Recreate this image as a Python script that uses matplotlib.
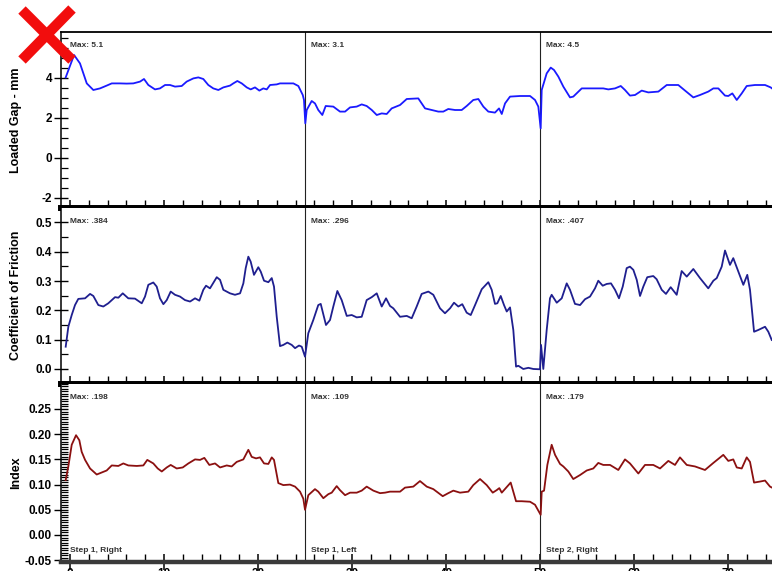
import numpy as np
import matplotlib.pyplot as plt
from matplotlib.lines import Line2D
from matplotlib.ticker import MultipleLocator, FixedLocator, FormatStrFormatter
import matplotlib.transforms as mtransforms

plt.rcParams['font.family'] = ['Liberation Sans', 'DejaVu Sans']
plt.rcParams['font.weight'] = 'bold'
plt.rcParams['axes.labelweight'] = 'bold'
plt.rcParams['axes.unicode_minus'] = False

# Loaded gap (mm)
gap_x = [-0.46, 0.43, 1.06, 1.78, 2.48, 3.19, 3.90, 4.44, 5.32, 6.03, 6.73, 7.45, 7.87, 8.33,
         9.04, 9.57, 10.11, 10.64, 11.17, 11.88, 12.41, 13.12, 13.65, 14.18, 14.71, 15.24,
         15.78, 16.31, 17.02, 17.37, 17.80, 18.27, 18.80, 19.22, 19.68, 20.14, 20.56, 20.93,
         21.28, 21.99, 22.34, 23.76, 24.29, 24.76, 24.89, 25.03, 25.18, 25.71, 26.06, 26.41,
         26.84, 27.20, 28.01, 28.72, 29.26, 29.79, 30.50, 31.03, 31.56, 32.10, 32.63, 33.16,
         33.69, 34.22, 35.11, 35.82, 37.05, 37.77, 38.48, 39.18, 39.71, 40.24, 40.96, 41.67,
         42.20, 42.90, 43.44, 43.97, 44.50, 45.21, 45.64, 45.93, 46.28, 46.81, 47.87, 48.94,
         49.47, 49.82, 50.07, 50.18, 50.71, 51.14, 51.49, 51.95, 52.48, 53.19, 53.54, 54.44,
         55.67, 56.73, 57.27, 57.98, 58.59, 59.04, 59.57, 60.11, 60.82, 61.52, 62.59, 63.48,
         64.71, 65.43, 66.31, 67.02, 67.90, 68.44, 68.97, 69.68, 70.03, 70.46, 70.93, 71.46,
         71.99, 72.87, 73.94, 74.54, 74.68]
gap_y = [4.03, 5.15, 4.73, 3.73, 3.40, 3.48, 3.62, 3.73, 3.73, 3.72, 3.73, 3.82, 3.95, 3.65,
         3.43, 3.48, 3.65, 3.65, 3.57, 3.60, 3.82, 3.98, 4.03, 3.95, 3.65, 3.48,
         3.40, 3.53, 3.62, 3.73, 3.85, 3.73, 3.53, 3.43, 3.53, 3.37, 3.48, 3.43,
         3.65, 3.68, 3.73, 3.73, 3.60, 3.15, 2.90, 1.73, 2.40, 2.85, 2.73, 2.40,
         2.15, 2.60, 2.57, 2.32, 2.32, 2.53, 2.57, 2.68, 2.60, 2.40, 2.15, 2.23,
         2.20, 2.48, 2.65, 2.95, 2.98, 2.48, 2.40, 2.32, 2.32, 2.45, 2.40, 2.40,
         2.60, 2.90, 2.95, 2.57, 2.32, 2.27, 2.48, 2.20, 2.73, 3.07, 3.10, 3.10,
         2.90, 2.57, 1.48, 3.40, 4.23, 4.52, 4.40, 4.07, 3.57, 3.03, 3.07, 3.48,
         3.48, 3.48, 3.43, 3.48, 3.60, 3.40, 3.12, 3.15, 3.37, 3.28, 3.32, 3.65,
         3.65, 3.37, 3.03, 3.15, 3.32, 3.48, 3.48, 3.12, 3.10, 3.23, 2.90, 3.23,
         3.60, 3.65, 3.65, 3.53, 3.48]

# Coefficient of friction
cof_x = [-0.46, -0.18, 0.18, 0.53, 0.88, 1.60, 2.13, 2.48, 3.01, 3.54, 4.07, 4.79, 5.14, 5.61,
         6.20, 6.91, 7.63, 7.98, 8.33, 8.86, 9.22, 9.57, 9.93, 10.29, 10.71, 11.17, 11.70,
         12.23, 12.77, 13.30, 13.76, 14.18, 14.47, 14.89, 15.61, 15.96, 16.31, 17.02, 17.55,
         18.09, 18.44, 18.69, 18.97, 19.22, 19.57, 20.03, 20.29, 20.64, 21.10, 21.46, 21.70,
         21.99, 22.34, 22.69, 23.12, 23.59, 23.94, 24.36, 24.65, 25.00, 25.35, 25.88, 26.41,
         26.67, 27.23, 27.66, 28.01, 28.44, 28.90, 29.44, 29.97, 30.50, 31.03, 31.56, 32.10,
         32.63, 33.16, 33.62, 34.04, 34.39, 35.11, 35.82, 36.35, 36.88, 37.41, 38.12, 38.65,
         39.36, 39.89, 40.43, 40.85, 41.31, 41.73, 42.20, 42.63, 43.09, 43.80, 44.50, 44.86,
         45.21, 45.46, 45.82, 46.17, 46.46, 46.81, 47.16, 47.45, 47.69, 48.22, 48.76, 49.29,
         50.00, 50.11, 50.35, 50.71, 51.06, 51.24, 51.78, 52.31, 52.84, 53.19, 53.72, 54.26,
         54.79, 55.32, 55.85, 56.20, 56.67, 57.10, 57.55, 57.98, 58.40, 58.80, 59.22, 59.57,
         59.93, 60.29, 60.64, 60.99, 61.41, 62.05, 62.41, 62.95, 63.40, 63.90, 64.54, 65.07,
         65.61, 66.31, 67.02, 67.90, 68.44, 68.80, 69.33, 69.68, 70.21, 70.56, 71.10, 71.63,
         72.05, 72.34, 72.77, 73.22, 73.94, 74.29, 74.65]
cof_y = [0.076, 0.144, 0.184, 0.218, 0.239, 0.241, 0.256, 0.249, 0.218, 0.213, 0.224, 0.245, 0.243, 0.258,
         0.241, 0.240, 0.224, 0.247, 0.287, 0.295, 0.281, 0.241, 0.221, 0.235, 0.264, 0.253, 0.247,
         0.235, 0.230, 0.241, 0.233, 0.270, 0.284, 0.275, 0.313, 0.304, 0.270, 0.258, 0.253,
         0.258, 0.292, 0.344, 0.383, 0.366, 0.321, 0.347, 0.332, 0.301, 0.296, 0.310, 0.281,
         0.178, 0.078, 0.082, 0.090, 0.082, 0.071, 0.080, 0.076, 0.042, 0.122, 0.167, 0.218,
         0.222, 0.150, 0.167, 0.213, 0.266, 0.235, 0.181, 0.184, 0.176, 0.178, 0.235, 0.245,
         0.258, 0.213, 0.241, 0.215, 0.207, 0.178, 0.181, 0.173, 0.213, 0.256, 0.264, 0.253,
         0.207, 0.190, 0.207, 0.226, 0.213, 0.221, 0.192, 0.184, 0.218, 0.272, 0.296, 0.270,
         0.222, 0.224, 0.249, 0.218, 0.196, 0.210, 0.133, 0.008, 0.011, 0.000, 0.004, 0.000,
         -0.001, 0.082, 0.000, 0.133, 0.241, 0.253, 0.226, 0.241, 0.292, 0.270, 0.222, 0.218,
         0.238, 0.247, 0.275, 0.301, 0.284, 0.290, 0.292, 0.270, 0.241, 0.281, 0.344, 0.349,
         0.338, 0.304, 0.249, 0.281, 0.313, 0.317, 0.306, 0.270, 0.256, 0.279, 0.253, 0.334,
         0.315, 0.341, 0.310, 0.275, 0.301, 0.310, 0.349, 0.404, 0.355, 0.378, 0.332, 0.287,
         0.321, 0.270, 0.127, 0.133, 0.144, 0.127, 0.099]

# Index
idx_x = [-0.46, -0.18, 0.18, 0.64, 0.99, 1.24, 1.60, 2.13, 2.84, 3.37, 3.90, 4.44, 5.14, 5.67,
         6.20, 7.10, 7.80, 8.22, 8.86, 9.33, 9.76, 10.29, 10.71, 11.35, 11.99, 12.59, 13.30,
         13.83, 14.29, 14.82, 15.43, 15.96, 16.67, 17.20, 17.73, 18.44, 18.97, 19.33, 19.79,
         20.21, 20.64, 21.10, 21.46, 21.70, 22.16, 22.69, 23.40, 23.94, 24.47, 24.82, 25.00,
         25.35, 26.06, 26.41, 26.95, 27.48, 27.84, 28.37, 28.72, 29.26, 29.79, 30.50, 31.03,
         31.56, 32.27, 32.98, 33.51, 34.04, 35.11, 35.64, 36.52, 37.23, 37.95, 38.65, 39.65,
         40.24, 40.78, 41.49, 42.37, 42.90, 43.62, 44.33, 44.97, 45.39, 45.67, 45.93, 46.46,
         46.88, 47.45, 48.05, 48.94, 49.47, 50.07, 50.18, 50.43, 50.78, 51.24, 51.60, 52.13,
         52.48, 53.01, 53.54, 54.26, 54.97, 55.67, 56.20, 56.73, 57.45, 58.33, 59.04, 59.57,
         60.46, 61.17, 62.05, 62.77, 63.65, 64.36, 64.89, 65.61, 66.49, 67.55, 68.44, 69.50,
         70.03, 70.56, 70.93, 71.46, 71.99, 72.34, 72.77, 73.40, 73.94, 74.47, 74.68]
idx_y = [0.109, 0.136, 0.179, 0.198, 0.188, 0.165, 0.149, 0.132, 0.120, 0.124, 0.128, 0.138, 0.137, 0.142,
         0.138, 0.137, 0.138, 0.149, 0.142, 0.132, 0.126, 0.134, 0.139, 0.132, 0.134, 0.142, 0.150,
         0.149, 0.153, 0.139, 0.142, 0.134, 0.138, 0.136, 0.145, 0.150, 0.169, 0.155, 0.152,
         0.154, 0.142, 0.141, 0.154, 0.149, 0.103, 0.099, 0.100, 0.096, 0.086, 0.072, 0.050,
         0.079, 0.091, 0.086, 0.073, 0.081, 0.084, 0.097, 0.089, 0.079, 0.084, 0.084, 0.088,
         0.096, 0.088, 0.083, 0.084, 0.086, 0.086, 0.094, 0.096, 0.107, 0.096, 0.091, 0.077,
         0.083, 0.088, 0.084, 0.086, 0.099, 0.111, 0.099, 0.084, 0.089, 0.093, 0.084, 0.095,
         0.104, 0.067, 0.067, 0.066, 0.060, 0.040, 0.086, 0.088, 0.139, 0.179, 0.159, 0.141,
         0.136, 0.126, 0.111, 0.119, 0.128, 0.132, 0.143, 0.139, 0.139, 0.129, 0.150, 0.142,
         0.122, 0.139, 0.139, 0.132, 0.147, 0.139, 0.154, 0.139, 0.136, 0.129, 0.143, 0.159,
         0.147, 0.150, 0.134, 0.132, 0.154, 0.145, 0.104, 0.106, 0.108, 0.096, 0.094]

dividers = [25, 50]
text_x = [0.0, 25.6, 50.6]
gap_max = ['Max: 5.1', 'Max: 3.1', 'Max: 4.5']
cof_max = ['Max: .384', 'Max: .296', 'Max: .407']
idx_max = ['Max: .198', 'Max: .109', 'Max: .179']
step_labels = ['Step 1, Right', 'Step 1, Left', 'Step 2, Right']
x_ticks = [0, 10, 20, 30, 40, 50, 60, 70]

W, H = 772, 571
fig = plt.figure(figsize=(W / 100, H / 100), dpi=100)


def make_panel(top, bottom, x, y, color, ylim, ylabel, maxes, major, minor, fmt, bottom_lw, bottom_col):
    ax = fig.add_axes([61 / W, 1 - bottom / H, 1 - 61 / W, (bottom - top) / H])
    ax.plot(x, y, color=color, lw=1.3, zorder=3)
    for d in dividers:
        ax.axvline(d, color='#222222', lw=0.8, zorder=2)
    ax.set_xlim(-0.96, 74.68)
    ax.set_ylim(*ylim)
    ax.spines['right'].set_visible(False)
    ax.spines['top'].set_visible(False)
    ax.spines['left'].set_linewidth(1.1)
    ax.spines['bottom'].set_linewidth(bottom_lw)
    ax.spines['bottom'].set_color(bottom_col)
    ax.set_xticks(x_ticks)
    ax.xaxis.set_minor_locator(MultipleLocator(2))
    ax.yaxis.set_major_locator(FixedLocator(major))
    ax.yaxis.set_minor_locator(MultipleLocator(minor))
    ax.yaxis.set_major_formatter(FormatStrFormatter(fmt))
    ax.tick_params(axis='x', which='major', direction='inout', length=11, width=1.1,
                   labelsize=8.5, pad=-1.5)
    ax.tick_params(axis='x', which='minor', direction='in', length=5.5, width=1.0)
    ax.tick_params(axis='y', which='major', direction='inout', length=10, width=1.0,
                   labelsize=8.5, pad=1.5)
    ax.tick_params(axis='y', which='minor', direction='in', length=5, width=0.9)
    ax.set_ylabel(ylabel, fontsize=9)
    ax.yaxis.set_label_coords((22 - 61) / (W - 61), 0.5)
    trans = mtransforms.blended_transform_factory(ax.transData, ax.transAxes)
    yfrac = 1 - 13.6 / (bottom - top)
    for tx, s in zip(text_x, maxes):
        ax.text(tx, yfrac, s, transform=trans, fontsize=6, color='#333333',
                ha='left', va='center', zorder=4)
    return ax, trans


ax1, _ = make_panel(32, 208, gap_x, gap_y, '#1a1aff', (-2.5, 6.3), 'Loaded Gap - mm',
                    gap_max, [-2, 0, 2, 4], 0.5, '%d', 4.3, 'black')
ax1.spines['top'].set_visible(True)
ax1.spines['top'].set_linewidth(1.3)
ax1.tick_params(axis='x', labelbottom=False)

ax2, _ = make_panel(208, 383.5, cof_x, cof_y, '#1f1f8f', (-0.0495, 0.549), 'Coefficient of Friction',
                    cof_max, [0.0, 0.1, 0.2, 0.3, 0.4, 0.5], 0.05, '%.1f', 4.3, 'black')
ax2.tick_params(axis='x', labelbottom=False)

ax3, trans3 = make_panel(383.5, 562, idx_x, idx_y, '#8b1010', (-0.0536, 0.3006), 'Index',
                         idx_max, [-0.05, 0.0, 0.05, 0.10, 0.15, 0.20, 0.25], 0.005, '%.2f',
                         3.2, '#3a3a3a')
for tx, s in zip(text_x, step_labels):
    ax3.text(tx, 11 / 178.5, s, transform=trans3, fontsize=6, color='#333333',
             ha='left', va='center', zorder=4)

# red cross in the corner
for xs, ys in [([22, 72], [10, 60]), ([72, 22], [9, 60])]:
    fig.add_artist(Line2D([v / W for v in xs], [1 - v / H for v in ys], color='#f20d0d',
                          lw=7.5, solid_capstyle='butt', transform=fig.transFigure, zorder=20))

fig.savefig('out.png', dpi=100)
